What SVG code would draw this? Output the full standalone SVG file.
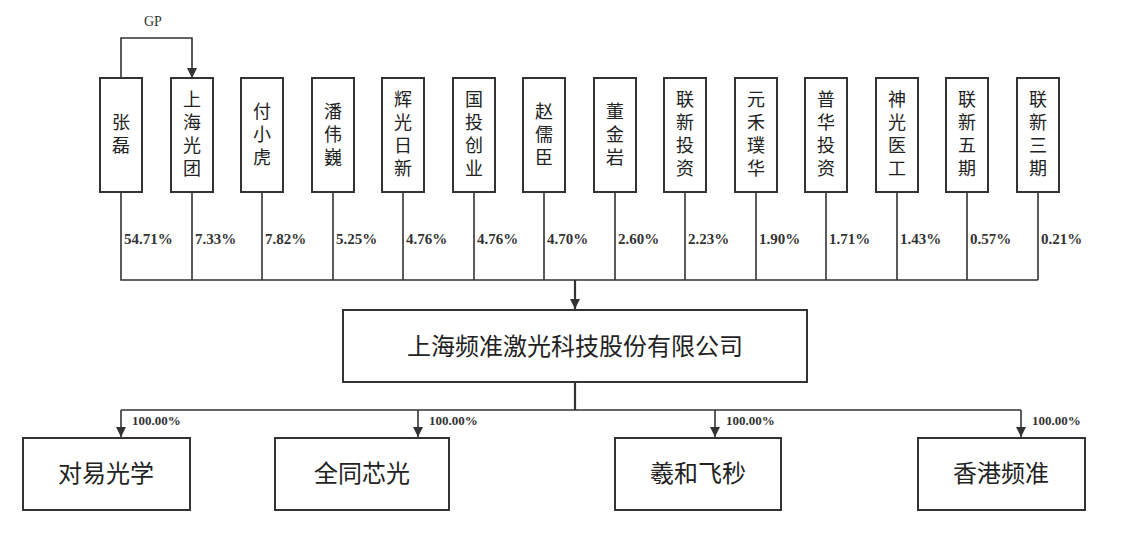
<svg xmlns="http://www.w3.org/2000/svg" width="1146" height="534" viewBox="0 0 1146 534">
<defs><marker id="ar" viewBox="0 0 10 10" refX="10" refY="5" markerWidth="10" markerHeight="10" markerUnits="userSpaceOnUse" orient="auto"><path d="M0,0L10,5L0,10z" fill="#333"/></marker></defs>
<style>
rect{fill:#fff;stroke:#333;stroke-width:2}
.c{fill:none;stroke:#333;stroke-width:1.6}
.v{font-family:"Liberation Serif","Noto Sans CJK SC",serif;font-size:18px;fill:#222;text-anchor:middle}
.p{font-family:"Liberation Serif",serif;font-size:15px;font-weight:bold;fill:#333}
.b{font-family:"Liberation Serif","Noto Sans CJK SC",serif;font-size:24px;fill:#222;text-anchor:middle}
</style>
<rect x="0" y="0" width="1146" height="534" style="fill:#fff;stroke:none"/>
<g id="connectors">
<path class="c" d="M121,78V38H192V78" marker-end="url(#ar)"/>
<path class="c" d="M121,192V280H1038M192,192V280M262,192V280M333,192V280M403,192V280M474,192V280M544,192V280M615,192V280M685,192V280M756,192V280M826,192V280M897,192V280M967,192V280M1038,192V280"/>
<path class="c" style="stroke-width:2.2" d="M575,280V309" marker-end="url(#ar)"/>
<path class="c" style="stroke-width:2.2" d="M575,382V410"/>
<path class="c" d="M121,410H1021"/>
<path class="c" d="M121,410V437" marker-end="url(#ar)"/>
<path class="c" d="M418,410V437" marker-end="url(#ar)"/>
<path class="c" d="M715,410V437" marker-end="url(#ar)"/>
<path class="c" d="M1021,410V437" marker-end="url(#ar)"/>
<text class="p" x="144" y="26" style="font-weight:normal;font-size:14px">GP</text>
<g class="p">
<text x="124" y="244">54.71%</text><text x="195" y="244">7.33%</text><text x="265" y="244">7.82%</text><text x="336" y="244">5.25%</text><text x="406" y="244">4.76%</text><text x="477" y="244">4.76%</text><text x="547" y="244">4.70%</text><text x="618" y="244">2.60%</text><text x="688" y="244">2.23%</text><text x="759" y="244">1.90%</text><text x="829" y="244">1.71%</text><text x="900" y="244">1.43%</text><text x="970" y="244">0.57%</text><text x="1041" y="244">0.21%</text>
<text x="132" y="425" style="font-size:13px">100.00%</text><text x="429" y="425" style="font-size:13px">100.00%</text><text x="726" y="425" style="font-size:13px">100.00%</text><text x="1032" y="425" style="font-size:13px">100.00%</text>
</g>
</g>
<g id="n1"><rect x="100" y="78" width="42" height="114"/><text class="v" x="121" y="129">张</text><text class="v" x="121" y="152">磊</text></g>
<g id="n2"><rect x="171" y="78" width="42" height="114"/><text class="v" x="192" y="106">上</text><text class="v" x="192" y="129">海</text><text class="v" x="192" y="152">光</text><text class="v" x="192" y="175">团</text></g>
<g id="n3"><rect x="241" y="78" width="42" height="114"/><text class="v" x="262" y="118">付</text><text class="v" x="262" y="141">小</text><text class="v" x="262" y="164">虎</text></g>
<g id="n4"><rect x="312" y="78" width="42" height="114"/><text class="v" x="333" y="118">潘</text><text class="v" x="333" y="141">伟</text><text class="v" x="333" y="164">巍</text></g>
<g id="n5"><rect x="382" y="78" width="42" height="114"/><text class="v" x="403" y="106">辉</text><text class="v" x="403" y="129">光</text><text class="v" x="403" y="152">日</text><text class="v" x="403" y="175">新</text></g>
<g id="n6"><rect x="453" y="78" width="42" height="114"/><text class="v" x="474" y="106">国</text><text class="v" x="474" y="129">投</text><text class="v" x="474" y="152">创</text><text class="v" x="474" y="175">业</text></g>
<g id="n7"><rect x="523" y="78" width="42" height="114"/><text class="v" x="544" y="118">赵</text><text class="v" x="544" y="141">儒</text><text class="v" x="544" y="164">臣</text></g>
<g id="n8"><rect x="594" y="78" width="42" height="114"/><text class="v" x="615" y="118">董</text><text class="v" x="615" y="141">金</text><text class="v" x="615" y="164">岩</text></g>
<g id="n9"><rect x="664" y="78" width="42" height="114"/><text class="v" x="685" y="106">联</text><text class="v" x="685" y="129">新</text><text class="v" x="685" y="152">投</text><text class="v" x="685" y="175">资</text></g>
<g id="n10"><rect x="735" y="78" width="42" height="114"/><text class="v" x="756" y="106">元</text><text class="v" x="756" y="129">禾</text><text class="v" x="756" y="152">璞</text><text class="v" x="756" y="175">华</text></g>
<g id="n11"><rect x="805" y="78" width="42" height="114"/><text class="v" x="826" y="106">普</text><text class="v" x="826" y="129">华</text><text class="v" x="826" y="152">投</text><text class="v" x="826" y="175">资</text></g>
<g id="n12"><rect x="876" y="78" width="42" height="114"/><text class="v" x="897" y="106">神</text><text class="v" x="897" y="129">光</text><text class="v" x="897" y="152">医</text><text class="v" x="897" y="175">工</text></g>
<g id="n13"><rect x="946" y="78" width="42" height="114"/><text class="v" x="967" y="106">联</text><text class="v" x="967" y="129">新</text><text class="v" x="967" y="152">五</text><text class="v" x="967" y="175">期</text></g>
<g id="n14"><rect x="1017" y="78" width="42" height="114"/><text class="v" x="1038" y="106">联</text><text class="v" x="1038" y="129">新</text><text class="v" x="1038" y="152">三</text><text class="v" x="1038" y="175">期</text></g>
<g id="main"><rect x="343" y="310" width="464" height="72"/><text class="b" x="575" y="355">上海频准激光科技股份有限公司</text></g>
<g id="c1"><rect x="23" y="438" width="167" height="72"/><text class="b" x="106" y="482">对易光学</text></g>
<g id="c2"><rect x="275" y="438" width="174" height="72"/><text class="b" x="362" y="482">全同芯光</text></g>
<g id="c3"><rect x="615" y="438" width="166" height="72"/><text class="b" x="698" y="482">羲和飞秒</text></g>
<g id="c4"><rect x="918" y="438" width="167" height="72"/><text class="b" x="1001" y="482">香港频准</text></g>
</svg>
